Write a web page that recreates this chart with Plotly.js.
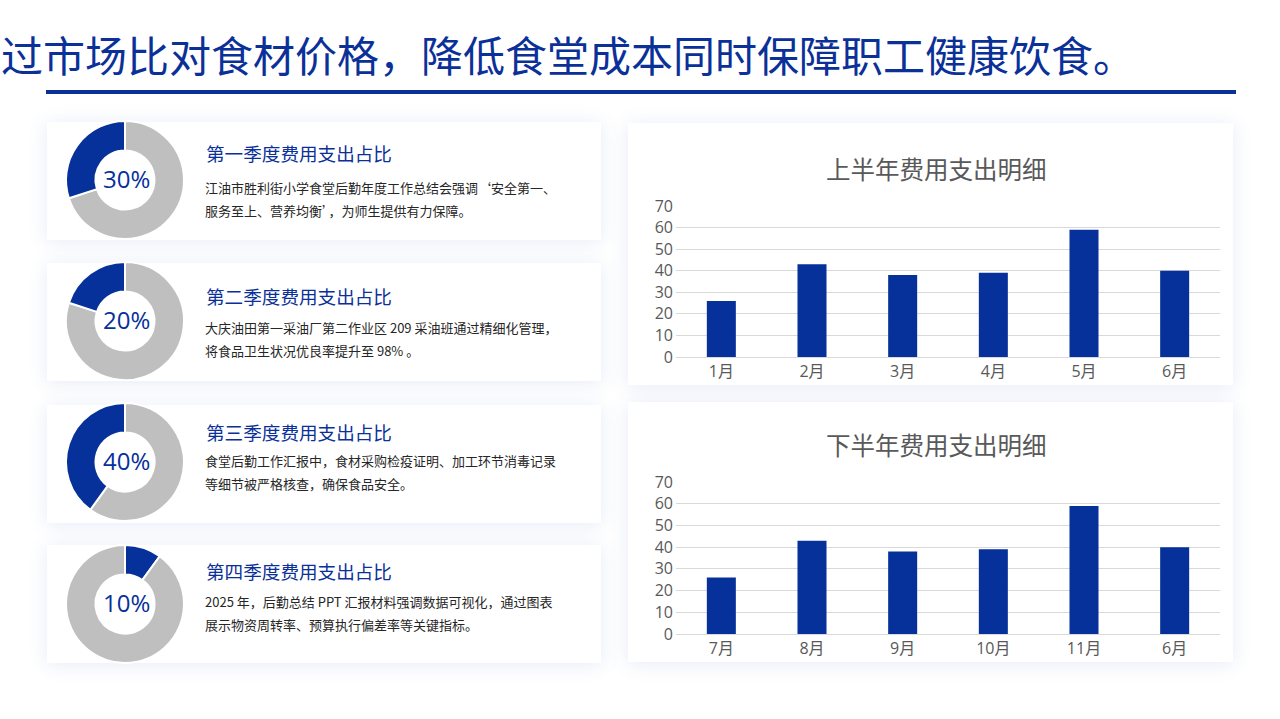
<!DOCTYPE html>
<html>
<head>
<meta charset="utf-8">
<script src="https://cdn.plot.ly/plotly-3.0.1.min.js"></script>
<style>
  html, body { margin:0; padding:0; width:1280px; height:719px; overflow:hidden; background:#ffffff;
    font-family:"Noto Sans CJK SC","Noto Sans",sans-serif; }
  .abs { position:absolute; }
  .card { position:absolute; background:#ffffff; box-shadow:0 2px 18px rgba(70,100,190,0.13); }
  .qtitle { position:absolute; font-size:18.6px; color:#0B3199; white-space:nowrap; line-height:1; }
  .qbody { position:absolute; font-size:13px; color:#262626; white-space:nowrap; line-height:23px; }
  #plot { position:absolute; left:0; top:0; width:1280px; height:719px; z-index:2; }
</style>
</head>
<body>
<div class="abs" id="pageTitle" style="left:1px;top:30px;font-size:42px;line-height:48px;color:#0B3199;white-space:nowrap;"></div>
<div class="abs" style="left:46px;top:90px;width:1190px;height:4px;background:#0B3199;"></div>
<div id="cards"></div>
<div id="plot"></div>
<script>
// ---------- data ----------
const pageTitle = "过市场比对食材价格，降低食堂成本同时保障职工健康饮食。";
const quarterTitles = ["第一季度费用支出占比","第二季度费用支出占比","第三季度费用支出占比","第四季度费用支出占比"];
const quarterShares = [30, 20, 40, 10];
const quarterText = [
  ["江油市胜利街小学食堂后勤年度工作总结会强调‘安全第一、","服务至上、营养均衡’，为师生提供有力保障。"],
  ["大庆油田第一采油厂第二作业区 209 采油班通过精细化管理，","将食品卫生状况优良率提升至 98% 。"],
  ["食堂后勤工作汇报中，食材采购检疫证明、加工环节消毒记录","等细节被严格核查，确保食品安全。"],
  ["2025 年，后勤总结 PPT 汇报材料强调数据可视化，通过图表","展示物资周转率、预算执行偏差率等关键指标。"]
];
const chartTitleH1 = "上半年费用支出明细";
const chartTitleH2 = "下半年费用支出明细";
const monthsH1 = ["1月","2月","3月","4月","5月","6月"];
const valuesH1 = [26, 43, 38, 39, 59, 40];
const monthsH2 = ["7月","8月","9月","10月","11月","6月"];
const valuesH2 = [26, 43, 38, 39, 59, 40];

// ---------- layout constants ----------
const W = 1280, H = 719;
const BLUE = "#06309A", GRAY = "#BFBFBF";
const cardTops = [122, 263, 405, 545];
const cardH = 118;
const donutCY = [180, 321, 462, 604];
const donutCX = 125, donutR = 59;
const titleOff = [22, 24, 18, 17];
const bodyOff = [54, 53, 44, 45];
// Plotly draws the first slice clockwise from 12 o'clock; blue sits left of 12 for Q1-Q3
const blueFirst = [false, false, false, true];

document.getElementById("pageTitle").textContent = pageTitle;

const cardsEl = document.getElementById("cards");
function addCard(l, t, w, h) {
  const d = document.createElement("div");
  d.className = "card";
  d.style.left = l + "px"; d.style.top = t + "px"; d.style.width = w + "px"; d.style.height = h + "px";
  cardsEl.appendChild(d);
}
cardTops.forEach((t, i) => {
  addCard(47, t, 554, cardH);
  const tt = document.createElement("div");
  tt.className = "qtitle"; tt.style.left = "206px"; tt.style.top = (t + titleOff[i]) + "px";
  tt.textContent = quarterTitles[i];
  cardsEl.appendChild(tt);
  const b = document.createElement("div");
  b.className = "qbody"; b.style.left = "205px"; b.style.top = (t + bodyOff[i]) + "px";
  b.innerHTML = quarterText[i].join("<br>");
  cardsEl.appendChild(b);
});
addCard(628, 123, 605, 262);
addCard(628, 402, 605, 260);

// ---------- plot ----------
const px = x => x / W;
const py = y => 1 - y / H;
const traces = [];
const annotations = [];
quarterShares.forEach((s, i) => {
  const bf = blueFirst[i];
  traces.push({
    type: "pie",
    values: bf ? [s, 100 - s] : [100 - s, s],
    labels: bf ? ["占比", "其他"] : ["其他", "占比"],
    sort: false,
    direction: "clockwise",
    rotation: 0,
    hole: 0.5,
    textinfo: "none",
    hoverinfo: "skip",
    marker: { colors: bf ? [BLUE, GRAY] : [GRAY, BLUE], line: { color: "#ffffff", width: 2 } },
    domain: { x: [px(donutCX - donutR), px(donutCX + donutR)], y: [py(donutCY[i] + donutR), py(donutCY[i] - donutR)] },
    showlegend: false
  });
  annotations.push({
    xref: "paper", yref: "paper", x: px(donutCX + 1), y: py(donutCY[i] - 1.5),
    text: s + "%", showarrow: false, xanchor: "center", yanchor: "middle",
    font: { family: "Open Sans, Noto Sans", size: 24, color: BLUE }
  });
});

traces.push({ type: "bar", x: monthsH1, y: valuesH1, xaxis: "x", yaxis: "y",
  marker: { color: BLUE }, hoverinfo: "x+y", showlegend: false });
traces.push({ type: "bar", x: monthsH2, y: valuesH2, xaxis: "x2", yaxis: "y2",
  marker: { color: BLUE }, hoverinfo: "x+y", showlegend: false });

annotations.push({ xref: "paper", yref: "paper", x: px(936), y: py(168), text: chartTitleH1, showarrow: false,
  xanchor: "center", yanchor: "middle", font: { family: "Noto Sans CJK SC", size: 24.5, color: "#595959" } });
annotations.push({ xref: "paper", yref: "paper", x: px(936), y: py(444), text: chartTitleH2, showarrow: false,
  xanchor: "center", yanchor: "middle", font: { family: "Noto Sans CJK SC", size: 24.5, color: "#595959" } });

const tickFont = { family: "Open Sans, Noto Sans CJK SC", size: 16, color: "#595959" };
function xAx(anchor) {
  return { domain: [px(676), px(1220)], anchor: anchor, type: "category", tickfont: tickFont,
    showline: false, ticks: "", fixedrange: true, showgrid: false, ticklabelstandoff: 3 };
}
function yAx(anchor, top, bottom) {
  return { domain: [py(bottom), py(top)], anchor: anchor, range: [0, 70], dtick: 10, tickfont: tickFont,
    gridcolor: "#D9D9D9", gridwidth: 1, zeroline: true, zerolinecolor: "#D9D9D9", zerolinewidth: 1,
    showline: false, ticks: "", fixedrange: true, ticklabelstandoff: 2 };
}

const layout = {
  width: W, height: H,
  margin: { l: 0, r: 0, t: 0, b: 0 },
  paper_bgcolor: "rgba(0,0,0,0)", plot_bgcolor: "rgba(0,0,0,0)",
  showlegend: false,
  bargap: 0.68,
  xaxis: xAx("y"), yaxis: yAx("x", 206, 357),
  xaxis2: xAx("y2"), yaxis2: yAx("x2", 482, 634),
  annotations: annotations,
  font: { family: "Noto Sans CJK SC, Noto Sans" }
};
Plotly.newPlot("plot", traces, layout, { displayModeBar: false, staticPlot: false });
</script>
</body>
</html>
